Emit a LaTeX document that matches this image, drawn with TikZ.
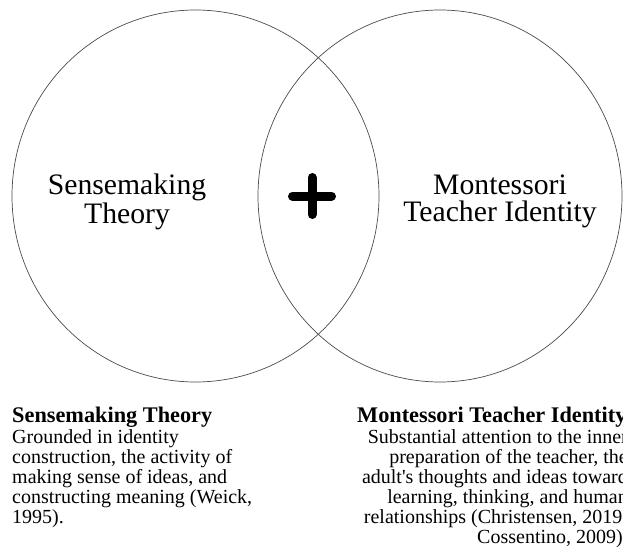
\documentclass[tikz,border=0pt]{standalone}
\usepackage{fontspec}
\setmainfont{Liberation Serif}
\newfontfamily\plainserif{Liberation Serif}
\usetikzlibrary{shapes.geometric}
\begin{document}
\begin{tikzpicture}[x=1pt,y=-1pt,
  venn/.style={draw=black!70, line width=0.7pt, ellipse, inner sep=0pt, minimum width=#1},
  biglabel/.style={font=\fontsize{29.7}{27}\selectfont, align=center, inner sep=0pt},
  headtext/.style={font=\fontsize{22.3}{22}\selectfont\bfseries, inner sep=0pt},
  bodytext/.style={font=\plainserif\fontsize{20}{20}\selectfont, inner sep=0pt},
  plusbar/.style={line width=9pt, line cap=round}]
\useasboundingbox (0,0) rectangle (623,548);
\clip (0,0) rectangle (623,548);
\fill[white] (0,0) rectangle (623,548);
% circles
\node[venn=367pt, minimum height=372pt] (left) at (195.5,196) {};
\node[venn=364pt, minimum height=372pt] (right) at (440,196) {};
% plus sign
\coordinate (plus) at (312,196);
\draw[plusbar] ([xshift=-19.5pt]plus) -- ([xshift=19.5pt]plus);
\draw[plusbar] ([yshift=-18.5pt]plus) -- ([yshift=18.5pt]plus);
% circle labels (base = baseline of last line)
\node[biglabel, anchor=base] (lbl1) at (127,223) {Sensemaking\\Theory};
\node[biglabel, anchor=base] (lbl2) at (500,221.5) {Montessori\\Teacher Identity};
% bottom descriptions
\node[headtext, anchor=base west] (sth) at (12,422) {Sensemaking Theory};
\node[bodytext, align=left, anchor=base west] (stb) at (12,523)
  {Grounded in identity\\construction, the activity of\\making sense of ideas, and\\constructing meaning (Weick,\\1995).};
\node[headtext, anchor=base west] (mth) at (357,422) {Montessori Teacher Identity};
\node[bodytext, align=right, anchor=base east] (mtb) at (628,543)
  {Substantial attention to the inner\\preparation of the teacher, the\\adult's thoughts and ideas toward\\learning, thinking, and human\\relationships (Christensen, 2019;\\Cossentino, 2009).};
\end{tikzpicture}
\end{document}
